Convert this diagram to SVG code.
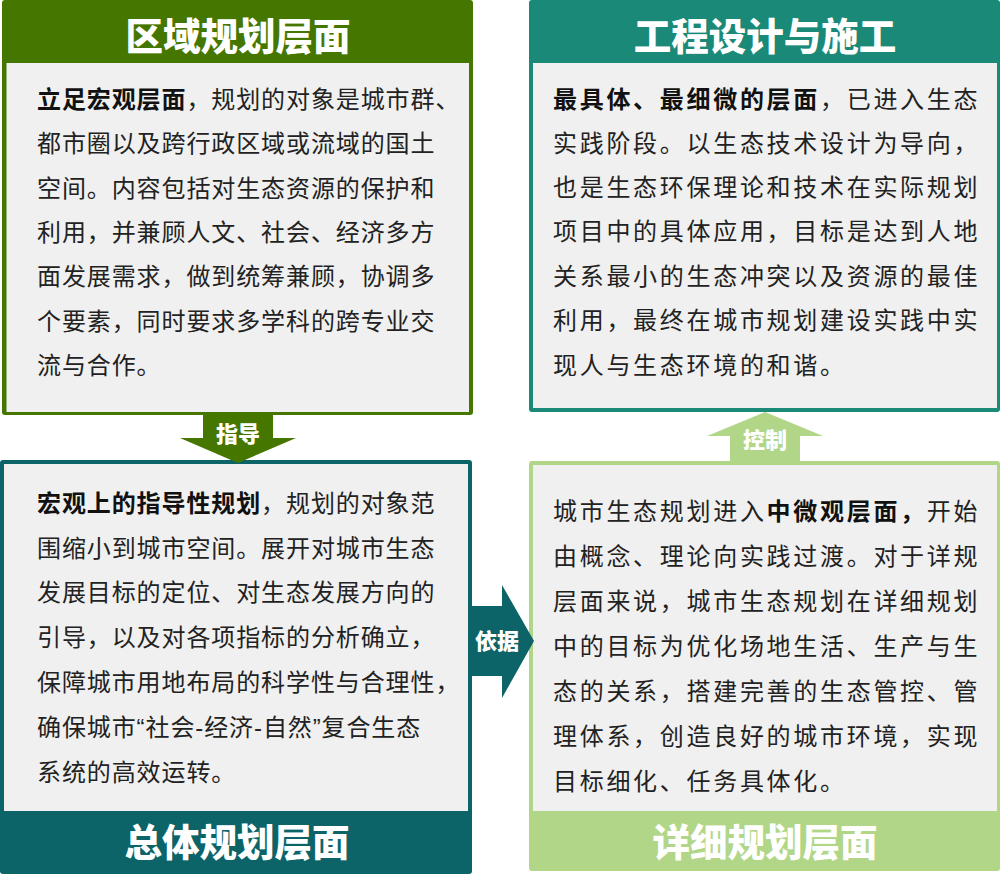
<svg xmlns="http://www.w3.org/2000/svg" width="1001" height="887" viewBox="0 0 1001 887">
<style>
.inner{fill:#F0F0F0}
.title{font-family:"Noto Sans CJK SC","Noto Sans",sans-serif;font-weight:900;font-size:37.5px;fill:#FFFFFF;text-anchor:middle}
.body{font-family:"Liberation Sans","Noto Sans CJK SC",sans-serif;font-size:24px;fill:#222222}
.left{letter-spacing:0.9px}
.right{letter-spacing:2.7px}
.b{font-weight:700;fill:#111111}
.lbl{font-family:"Noto Sans CJK SC",sans-serif;font-weight:900;font-size:22px;fill:#FFFFFF;text-anchor:middle}
</style>
<rect width="1001" height="887" fill="#FFFFFF"/>

<g id="node-regional">
<rect x="2" y="0" width="471" height="415" rx="3" fill="#447600"/>
<rect class="inner" x="6.5" y="63" width="462.5" height="349"/>
<text class="title" x="238" y="50">区域规划层面</text>
<text class="body left" x="37">
<tspan x="37" y="108"><tspan class="b">立足宏观层面</tspan>，规划的对象是城市群、</tspan>
<tspan x="37" y="152">都市圈以及跨行政区域或流域的国土</tspan>
<tspan x="37" y="197">空间。内容包括对生态资源的保护和</tspan>
<tspan x="37" y="241">利用，并兼顾人文、社会、经济多方</tspan>
<tspan x="37" y="285">面发展需求，做到统筹兼顾，协调多</tspan>
<tspan x="37" y="330">个要素，同时要求多学科的跨专业交</tspan>
<tspan x="37" y="374">流与合作。</tspan>
</text>
</g>

<g id="node-engineering">
<rect x="529" y="0" width="471" height="412" rx="3" fill="#1A8977"/>
<rect class="inner" x="533" y="63" width="464" height="345"/>
<text class="title" x="765" y="50">工程设计与施工</text>
<text class="body right" x="553">
<tspan x="553" y="108"><tspan class="b">最具体、最细微的层面</tspan>，已进入生态</tspan>
<tspan x="553" y="152">实践阶段。以生态技术设计为导向，</tspan>
<tspan x="553" y="196">也是生态环保理论和技术在实际规划</tspan>
<tspan x="553" y="240">项目中的具体应用，目标是达到人地</tspan>
<tspan x="553" y="285">关系最小的生态冲突以及资源的最佳</tspan>
<tspan x="553" y="329">利用，最终在城市规划建设实践中实</tspan>
<tspan x="553" y="374">现人与生态环境的和谐。</tspan>
</text>
</g>

<g id="node-master">
<rect x="0" y="460" width="472" height="414" rx="3" fill="#0C6368"/>
<rect class="inner" x="4" y="464" width="464" height="347"/>
<text class="title" x="237" y="856">总体规划层面</text>
<text class="body left" x="37">
<tspan x="37" y="512"><tspan class="b">宏观上的指导性规划</tspan>，规划的对象范</tspan>
<tspan x="37" y="557">围缩小到城市空间。展开对城市生态</tspan>
<tspan x="37" y="601">发展目标的定位、对生态发展方向的</tspan>
<tspan x="37" y="646">引导，以及对各项指标的分析确立，</tspan>
<tspan x="37" y="691">保障城市用地布局的科学性与合理性，</tspan>
<tspan x="37" y="736">确保城市“社会-经济-自然”复合生态</tspan>
<tspan x="37" y="781">系统的高效运转。</tspan>
</text>
</g>

<g id="node-detailed">
<rect x="529" y="461" width="471" height="410" rx="3" fill="#B1D688"/>
<rect class="inner" x="533" y="465" width="464" height="346"/>
<text class="title" x="765" y="856">详细规划层面</text>
<text class="body right" x="553">
<tspan x="553" y="520">城市生态规划进入<tspan class="b">中微观层面，</tspan>开始</tspan>
<tspan x="553" y="565">由概念、理论向实践过渡。对于详规</tspan>
<tspan x="553" y="610">层面来说，城市生态规划在详细规划</tspan>
<tspan x="553" y="655">中的目标为优化场地生活、生产与生</tspan>
<tspan x="553" y="700">态的关系，搭建完善的生态管控、管</tspan>
<tspan x="553" y="745">理体系，创造良好的城市环境，实现</tspan>
<tspan x="553" y="790">目标细化、任务具体化。</tspan>
</text>
</g>

<g id="connectors">
<g id="arrow-guide">
<polygon points="203,412 273,412 273,438 296,438 238,463 180,438 203,438" fill="#447600"/>
<text class="lbl" x="238" y="442">指导</text>
</g>
<g id="arrow-basis">
<polygon points="468,606 502,606 502,585 534,641 502,698 502,676 468,676" fill="#0C6368"/>
<text class="lbl" x="497" y="649">依据</text>
</g>
<g id="arrow-control">
<polygon points="730,461 730,436 707,436 765,412 823,436 800,436 800,461" fill="#B1D688"/>
<text class="lbl" x="765" y="448">控制</text>
</g>
</g>
</svg>
